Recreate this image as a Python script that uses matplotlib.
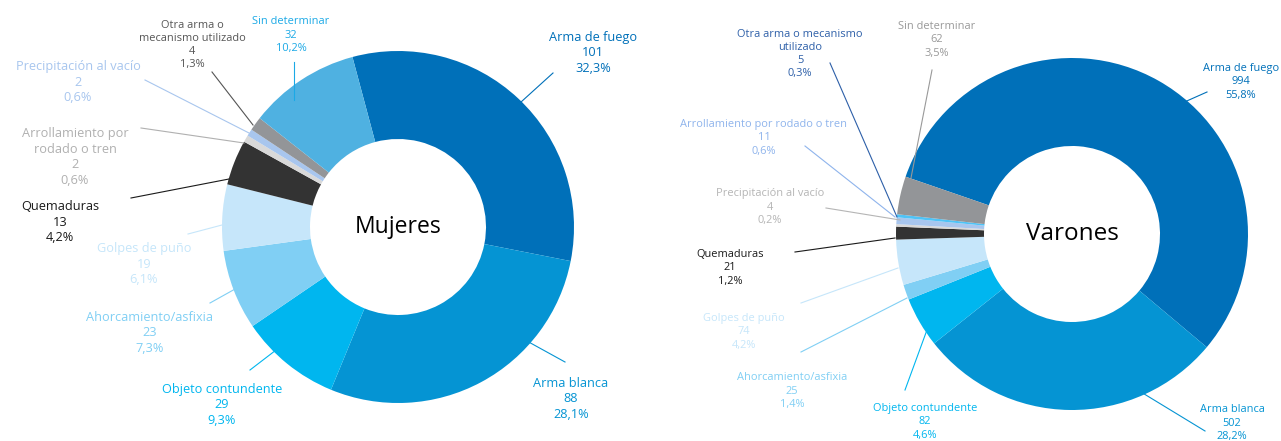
import matplotlib
matplotlib.use("Agg")
import matplotlib.pyplot as plt
from matplotlib.lines import Line2D

W, H = 1281, 441
FONT = "Open Sans"

# ---------------- data ----------------
muj_categories = ["Arma de fuego", "Arma blanca", "Objeto contundente", "Ahorcamiento/asfixia",
                  "Golpes de puño", "Quemaduras", "Arrollamiento por\nrodado o tren",
                  "Precipitación al vacío", "Otra arma o\nmecanismo utilizado", "Sin determinar"]
muj_values = [101, 88, 29, 23, 19, 13, 2, 2, 4, 32]

var_categories = ["Arma de fuego", "Arma blanca", "Objeto contundente", "Ahorcamiento/asfixia",
                  "Golpes de puño", "Quemaduras", "Precipitación al vacío",
                  "Arrollamiento por rodado o tren", "Otra arma o mecanismo\nutilizado", "Sin determinar"]
var_values = [994, 502, 82, 25, 74, 21, 4, 11, 5, 62]

# ---------------- styles ----------------
muj_colors = ["#0070b9", "#0594d3", "#00b6ef", "#80cff4", "#c6e6fa", "#333333",
              "#d9d9d9", "#a8c6ee", "#939598", "#4fb1e1"]
muj_text_colors = ["#0070b9", "#0594d3", "#00b6ef", "#80cff4", "#c6e6fa", "#1a1a1a",
                   "#b0b0b0", "#a8c6ee", "#555555", "#1ba9e6"]
var_colors = ["#0070b9", "#0594d3", "#00b6ef", "#80cff4", "#c6e6fa", "#333333",
              "#d9d9d9", "#a8c6ee", "#4fc3f7", "#939598"]
var_text_colors = ["#0070b9", "#0594d3", "#00b6ef", "#80cff4", "#c6e6fa", "#1a1a1a",
                   "#b5b5b5", "#8fb4ec", "#2d5fa8", "#999999"]

# label layout (pixel coords): text block center, font size, leader start, leader end
muj_layout = [
    ((593, 53), 9.2, (553, 73), (510, 112)),
    ((571, 399), 9.2, (565, 362), (496, 324)),
    ((222, 405), 9.2, (250, 370), (293, 337)),
    ((150, 333), 9.2, (210, 303), (253, 279)),
    ((144, 264), 9.2, (188, 234), (222, 225)),
    ((60, 222), 9.2, (131, 198), (229, 179)),
    ((75, 157), 9.2, (141, 128), (244, 143)),
    ((78, 82), 9.2, (145, 80), (249, 133)),
    ((192, 45), 7.9, (212, 72), (253, 125)),
    ((291, 35), 7.9, (294, 62), (294, 100)),
]
var_layout = [
    ((1241, 82), 7.9, (1207, 92), (1162, 112)),
    ((1232, 423), 7.9, (1205, 431), (1113, 375)),
    ((925, 422), 7.9, (905, 390), (931, 319)),
    ((792, 391), 7.9, (801, 352), (907, 298)),
    ((744, 332), 7.9, (801, 303), (898, 268)),
    ((730, 268), 7.9, (795, 252), (895, 238)),
    ((770, 207), 7.9, (826, 208), (900, 220)),
    ((764, 138), 7.9, (805, 146), (895, 217)),
    ((800, 54), 7.9, (830, 63), (897, 217)),
    ((937, 40), 7.9, (932, 70), (911, 178)),
]

fig = plt.figure(figsize=(W / 100, H / 100), dpi=100)
fig.patch.set_facecolor("white")


def fx(x):
    return x / W


def fy(y):
    return 1 - y / H


def donut(cx, cy, r, values, colors, start, title, title_size):
    ax = fig.add_axes([fx(cx - r), fy(cy + r), 2 * r / W, 2 * r / H])
    ax.pie(values, colors=colors, startangle=start, counterclock=False, radius=1.0,
           wedgeprops=dict(width=0.5, linewidth=0))
    ax.set_xlim(-1, 1)
    ax.set_ylim(-1, 1)
    ax.set_aspect("auto")
    ax.axis("off")
    ax.text(0, 0, title, ha="center", va="center", fontsize=title_size,
            family=FONT, color="black")
    return ax


def labels(cats, vals, tcolors, layout):
    total = sum(vals)
    for cat, v, col, (pos, fs, p0, p1) in zip(cats, vals, tcolors, layout):
        pct = f"{100 * v / total:.1f}".replace(".", ",") + "%"
        fig.text(fx(pos[0]), fy(pos[1]), f"{cat}\n{v}\n{pct}", ha="center", va="center",
                 multialignment="center", fontsize=fs, color=col, family=FONT,
                 linespacing=1.28)
        fig.add_artist(Line2D([fx(p0[0]), fx(p1[0])], [fy(p0[1]), fy(p1[1])],
                              transform=fig.transFigure, color=col, linewidth=0.8))


donut(398, 227, 176, muj_values, muj_colors, 105, "Mujeres", 16.5)
donut(1072, 234, 176, var_values, var_colors, 161, "Varones", 17.5)
labels(muj_categories, muj_values, muj_text_colors, muj_layout)
labels(var_categories, var_values, var_text_colors, var_layout)

fig.savefig("out.png", dpi=100, facecolor="white")
